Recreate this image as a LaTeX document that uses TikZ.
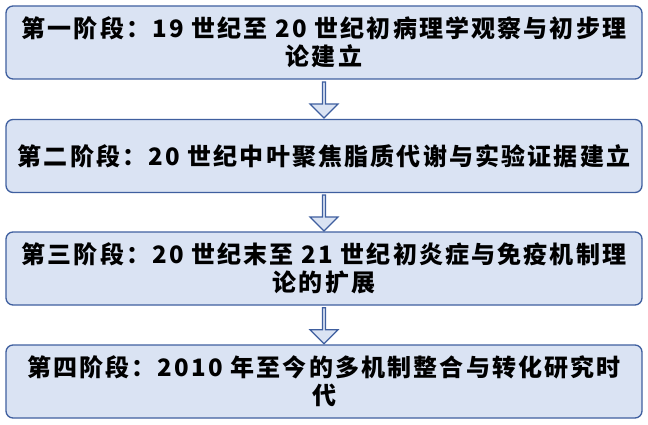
\documentclass[tikz,border=0pt]{standalone}
\usepackage{fontspec}
\setmainfont{Noto Sans CJK SC}[LetterSpace=9]
\usetikzlibrary{positioning,calc,shapes.arrows}
\definecolor{stagefill}{HTML}{DAE3F3}
\definecolor{stageline}{HTML}{3F5F9F}
\tikzset{
  stage/.style={draw=stageline, fill=stagefill, line width=1.3pt, rounded corners=7pt,
    minimum width=636pt, minimum height=73pt, align=center, font=\fontsize{24}{28}\selectfont\bfseries},
  stagearrow/.style={single arrow, draw=stageline, fill=stagefill, line width=1.2pt, rotate=-90,
    minimum height=36pt, minimum width=28pt, single arrow head extend=5pt, inner sep=0pt},
}
\begin{document}
\begin{tikzpicture}[x=1pt,y=1pt]
  \useasboundingbox (0,0) rectangle (648,-425);
  \node[stage] (s1) at (324,-42.5) {第一阶段：19 世纪至 20 世纪初病理学观察与初步理\\论建立};
  \node[stage] (s2) at (324,-156) {第二阶段：20 世纪中叶聚焦脂质代谢与实验证据建立};
  \node[stage] (s3) at (324,-268.5) {第三阶段：20 世纪末至 21 世纪初炎症与免疫机制理\\论的扩展};
  \node[stage] (s4) at (324,-381.5) {第四阶段：2010 年至今的多机制整合与转化研究时\\代};
  % arrows between stages
  \node[stagearrow] (a1) at ($(s1.south)!0.5!(s2.north)$) {};
  \node[stagearrow] (a2) at ($(s2.south)!0.5!(s3.north)$) {};
  \node[stagearrow] (a3) at ($(s3.south)!0.5!(s4.north)$) {};
\end{tikzpicture}
\end{document}
